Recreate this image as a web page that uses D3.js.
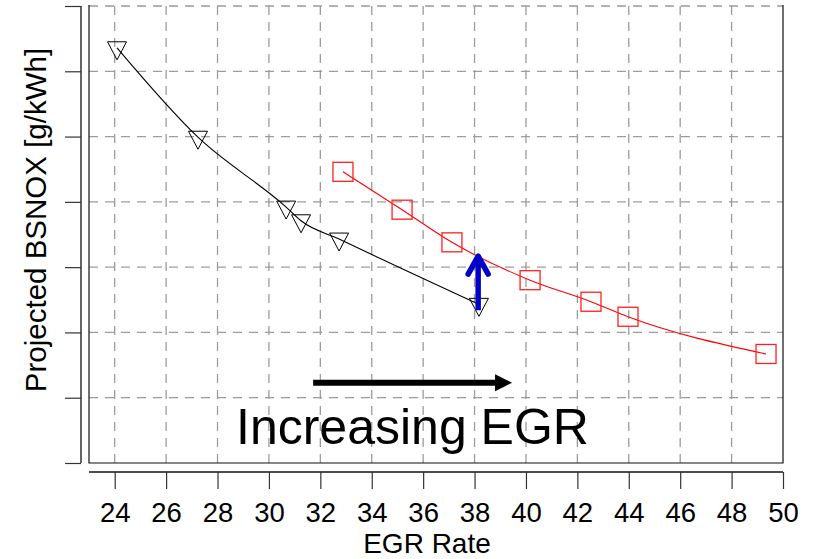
<!DOCTYPE html>
<html>
<head>
<meta charset="utf-8" />
<title>Projected BSNOX vs EGR Rate</title>
<script src="https://d3js.org/d3.v7.min.js"></script>
<style>
  body { margin: 0; background: #ffffff; }
  svg text { font-family: "Liberation Sans", Arial, sans-serif; fill: #000; }
</style>
</head>
<body>
<svg id="viz"></svg>

<script>
// data
var egrBlack = [24.09, 27.24, 30.67, 31.25, 32.73, 38.17];
var noxBlack = [6.36, 4.99, 3.92, 3.71, 3.43, 2.43];

var egrRed = [32.88, 35.18, 37.12, 40.16, 42.53, 43.97, 49.34];
var noxRed = [4.46, 3.88, 3.38, 2.80, 2.47, 2.24, 1.67];

var xTicks = [24, 26, 28, 30, 32, 34, 36, 38, 40, 42, 44, 46, 48, 50];
var yTicks = [0, 1, 2, 3, 4, 5, 6, 7];

// annotations
var blueArrow = {x: 38.14, y0: 2.34, y1: 3.20};
var blackArrow = {x0: 31.72, x1: 39.46, y: 1.23};
var noteText = {x: 28.72, y: 0.29, label: "Increasing EGR"};

var width = 813, height = 559;
var plot = {left: 89, right: 783, top: 6, bottom: 463};

var svg = d3.select("#viz")
  .attr("width", width)
  .attr("height", height);

var x = d3.scaleLinear().domain([23, 50]).range([plot.left, plot.right]);
var y = d3.scaleLinear().domain([0, 7]).range([plot.bottom, plot.top]);

// grid
svg.append("g")
  .selectAll("line")
  .data(xTicks.filter(function(d) { return d < 50; }))
  .enter().append("line")
    .attr("x1", function(d) { return x(d); })
    .attr("x2", function(d) { return x(d); })
    .attr("y1", plot.top)
    .attr("y2", plot.bottom)
    .attr("stroke", "#9c9c9c")
    .attr("stroke-width", 1.3)
    .attr("stroke-dasharray", "9,7");

svg.append("g")
  .selectAll("line")
  .data(yTicks.filter(function(d) { return d > 0; }))
  .enter().append("line")
    .attr("x1", plot.left)
    .attr("x2", plot.right)
    .attr("y1", function(d) { return y(d); })
    .attr("y2", function(d) { return y(d); })
    .attr("stroke", "#9c9c9c")
    .attr("stroke-width", 1.3)
    .attr("stroke-dasharray", "9,7");

// plot frame (left, right, bottom)
svg.append("path")
  .attr("d", "M" + plot.left + "," + (plot.top - 1) + "V" + plot.bottom + "H" + plot.right + "V" + (plot.top - 1))
  .attr("fill", "none")
  .attr("stroke", "#111")
  .attr("stroke-width", 1.2);

// y axis, detached, no labels
var yAxis = svg.append("g")
  .attr("transform", "translate(81,0)")
  .call(d3.axisLeft(y).tickValues(yTicks).tickSize(16).tickFormat(""));
yAxis.select(".domain").attr("d", "M0," + y(7) + "V" + y(0)).attr("stroke", "#555").attr("stroke-width", 1.8);
yAxis.selectAll(".tick line").attr("stroke", "#333").attr("stroke-width", 1.2);

// x axis, detached
var xAxis = svg.append("g")
  .attr("transform", "translate(0,472)")
  .call(d3.axisBottom(x).tickValues(xTicks).tickSize(17).tickPadding(13));
xAxis.select(".domain").attr("d", "M" + plot.left + ",0H" + plot.right).attr("stroke", "#111").attr("stroke-width", 1.5);
xAxis.selectAll(".tick line").attr("stroke", "#333").attr("stroke-width", 1.2);
xAxis.selectAll(".tick text")
  .style("font-size", "27.5px")
  .style("font-family", "'Liberation Sans', Arial, sans-serif")
  .attr("fill", "#000");

// axis titles
svg.append("text")
  .attr("x", 427)
  .attr("y", 553)
  .attr("text-anchor", "middle")
  .style("font-size", "28px")
  .text("EGR Rate");

svg.append("text")
  .attr("transform", "translate(46,220) rotate(-90)")
  .attr("text-anchor", "middle")
  .style("font-size", "29.5px")
  .text("Projected BSNOX [g/kWh]");

// series
var black = egrBlack.map(function(d, i) { return [d, noxBlack[i]]; });
var red = egrRed.map(function(d, i) { return [d, noxRed[i]]; });

var line = d3.line()
  .x(function(d) { return x(d[0]); })
  .y(function(d) { return y(d[1]); })
  .curve(d3.curveMonotoneX);

svg.append("path").datum(black)
  .attr("d", line).attr("fill", "none").attr("stroke", "#000").attr("stroke-width", 1.1);

svg.append("path").datum(red)
  .attr("d", line).attr("fill", "none").attr("stroke", "#ff0000").attr("stroke-width", 1.1);

svg.append("g").selectAll("path")
  .data(black)
  .enter().append("path")
    .attr("transform", function(d) { return "translate(" + x(d[0]) + "," + y(d[1]) + ")"; })
    .attr("d", "M-9.5,-6H9.5L0,12Z")
    .attr("fill", "none")
    .attr("stroke", "#000")
    .attr("stroke-width", 1);

svg.append("g").selectAll("rect")
  .data(red)
  .enter().append("rect")
    .attr("x", function(d) { return x(d[0]) - 10; })
    .attr("y", function(d) { return y(d[1]) - 9.5; })
    .attr("width", 20)
    .attr("height", 19)
    .attr("fill", "none")
    .attr("stroke", "#ff2020")
    .attr("stroke-width", 1.3);

// blue arrow
var bx = x(blueArrow.x), by0 = y(blueArrow.y0), by1 = y(blueArrow.y1);
svg.append("line")
  .attr("x1", bx).attr("x2", bx)
  .attr("y1", by0).attr("y2", by1 + 3)
  .attr("stroke", "#0000c8").attr("stroke-width", 5.5);
svg.append("path")
  .attr("d", "M" + (bx - 10) + "," + (by1 + 20) + "L" + bx + "," + (by1 + 2) + "L" + (bx + 10) + "," + (by1 + 20))
  .attr("fill", "none")
  .attr("stroke", "#0000c8")
  .attr("stroke-width", 5.5)
  .attr("stroke-linecap", "round")
  .attr("stroke-linejoin", "round");

// black arrow
var ax0 = x(blackArrow.x0), ax1 = x(blackArrow.x1), ay = y(blackArrow.y);
svg.append("line")
  .attr("x1", ax0).attr("x2", ax1 - 14)
  .attr("y1", ay).attr("y2", ay)
  .attr("stroke", "#000").attr("stroke-width", 6);
svg.append("path")
  .attr("d", "M" + (ax1 - 17) + "," + (ay - 8.5) + "L" + ax1 + "," + ay + "L" + (ax1 - 17) + "," + (ay + 8.5) + "Z")
  .attr("fill", "#000");

svg.append("text")
  .attr("x", x(noteText.x))
  .attr("y", y(noteText.y))
  .style("font-size", "50px")
  .text(noteText.label);
</script>
</body>
</html>
